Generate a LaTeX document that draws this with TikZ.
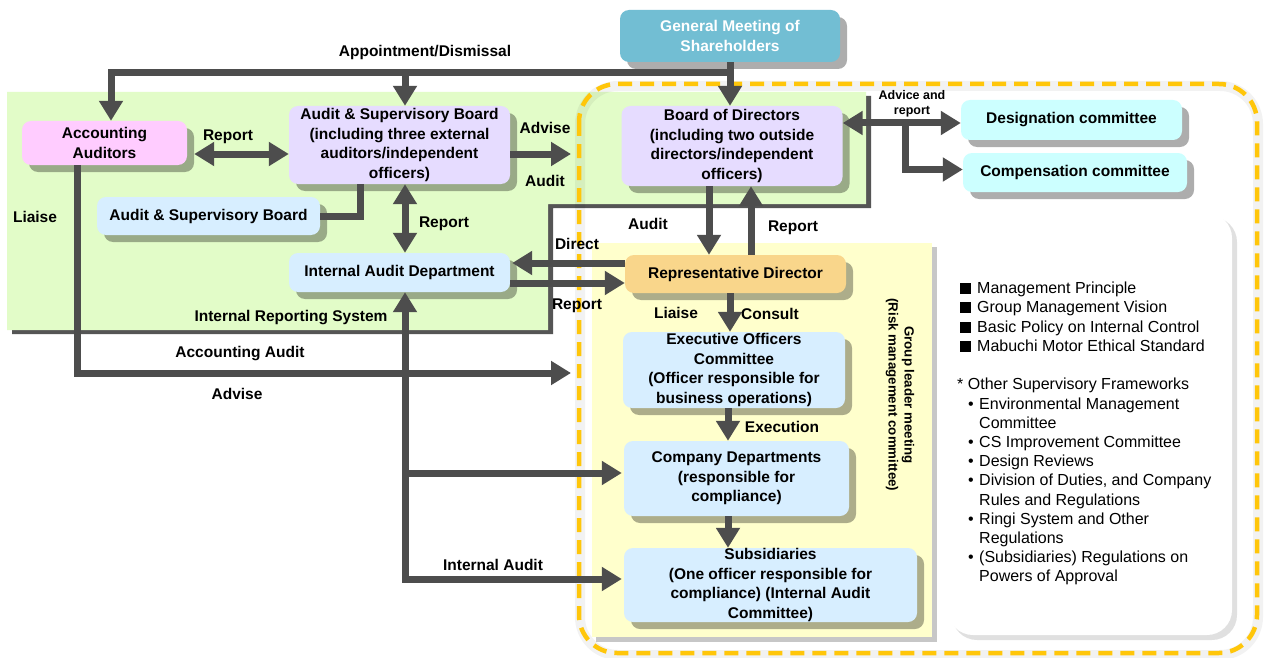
\documentclass[tikz,border=0pt]{standalone}
\usepackage{fontspec}
\setmainfont{Liberation Sans}
\usetikzlibrary{arrows.meta,shadows,calc}

\definecolor{arrowgray}{HTML}{4D4D4D}
\definecolor{edgegray}{HTML}{555555}
\definecolor{greenbg}{HTML}{E2FCC8}
\definecolor{yellowbg}{HTML}{FFFFCC}
\definecolor{goldline}{HTML}{FFC60A}
\definecolor{tealbox}{HTML}{72BED3}
\definecolor{lavbox}{HTML}{E6DCFF}
\definecolor{bluebox}{HTML}{D7EEFF}
\definecolor{pinkbox}{HTML}{FFCCFF}
\definecolor{cyanbox}{HTML}{CCFFFF}
\definecolor{orangebox}{HTML}{F9D68B}

\begin{document}
\begin{tikzpicture}[x=1pt,y=-1pt,
  lbl/.style={font=\bfseries\fontsize{15.5}{19}\selectfont, inner sep=0pt,
              text height=11.2pt, text depth=0pt},
  box/.style={rounded corners=9pt, align=center, inner sep=0pt,
              font=\bfseries\fontsize{15.5}{19.4}\selectfont,
              drop shadow={shadow xshift=7pt, shadow yshift=-7pt, fill=black, opacity=0.32}},
  arr/.style={draw=arrowgray, line width=7pt, line join=miter,
              -{Triangle[width=23pt,length=20pt]}},
  arrtwo/.style={draw=arrowgray, line width=7pt, line join=miter,
              {Triangle[width=23pt,length=20pt]}-{Triangle[width=23pt,length=20pt]}},
  link/.style={draw=arrowgray, line width=7pt, line join=miter},
]
\useasboundingbox (0,0) rectangle (1271,658);
\fill[white] (0,0) rectangle (1271,658);

% audit & supervision area (green, with dark edge)
\fill[edgegray] (12,96) -- (871,96) -- (871,208) -- (553,208) -- (553,334) -- (12,334) -- cycle;
\fill[greenbg] (7,92) -- (866,92) -- (866,204) -- (548,204) -- (548,330) -- (7,330) -- cycle;

% execution area (yellow)
\fill[black, opacity=0.22] (596,247) rectangle (937,642);
\fill[yellowbg] (592,243) rectangle (932,637);

% policy panel
\fill[black, opacity=0.12, rounded corners=25pt] (952,217) rectangle (1237,640);
\fill[white, rounded corners=25pt] (948,213) rectangle (1232,635);

% governance boundary
\draw[black, opacity=0.05, line width=10pt, rounded corners=38pt] (580,86) rectangle (1258,655);
\draw[goldline, line width=4.5pt, dash pattern=on 14pt off 8pt, rounded corners=38pt]
  (579,84) rectangle (1257,653);

% organisation units
\node[box, fill=tealbox, text=white, minimum width=220pt, minimum height=52pt] (GMS) at (730,36)
  {General Meeting of\\Shareholders};
\node[box, fill=lavbox, minimum width=221pt, minimum height=80pt] (BoD) at (732,146)
  {Board of Directors\\(including two outside\\directors/independent\\officers)};
\node[box, fill=cyanbox, minimum width=221pt, minimum height=40pt] (Desig) at (1071.5,120)
  {Designation committee};
\node[box, fill=cyanbox, minimum width=224pt, minimum height=39pt] (Comp) at (1075,172.5)
  {Compensation committee};
\node[box, fill=pinkbox, minimum width=165pt, minimum height=44pt] (AA) at (104.5,143)
  {Accounting\\Auditors};
\node[box, fill=lavbox, minimum width=221pt, minimum height=78pt] (ASB) at (399.5,145)
  {Audit \& Supervisory Board\\(including three external\\auditors/independent\\officers)};
\node[box, fill=bluebox, minimum width=223pt, minimum height=38pt] (ASBs) at (208.5,216)
  {Audit \& Supervisory Board};
\node[box, fill=bluebox, minimum width=221pt, minimum height=39pt] (IAD) at (399.5,272.5)
  {Internal Audit Department};
\node[box, fill=orangebox, minimum width=221pt, minimum height=38pt] (RD) at (735.5,274)
  {Representative Director};
\node[box, fill=bluebox, minimum width=222pt, minimum height=76pt] (Exec) at (734,370)
  {Executive Officers\\Committee\\(Officer responsible for\\business operations)};
\node[box, fill=bluebox, minimum width=225pt, minimum height=75pt] (CD) at (736.5,478.5)
  {Company Departments\\(responsible for\\compliance)};
\node[box, fill=bluebox, minimum width=293pt, minimum height=74pt] (Subs) at (770.5,585)
  {Subsidiaries\\(One officer responsible for\\compliance) (Internal Audit\\Committee)};

% group leader meeting caption
\node[rotate=-90, align=center, inner sep=0pt,
      font=\bfseries\fontsize{13.3}{16}\selectfont] (GLM) at (900,395)
  {Group leader meeting\\(Risk management committee)};

% policy list
\newcommand\sqitem{\hspace*{3pt}\makebox[17pt][l]{\rule[-0.5pt]{11pt}{11pt}}}
\newcommand\dotitem{\hspace*{11pt}\makebox[11pt][l]{•}}
\newcommand\contitem{\hspace*{22pt}}
\node[anchor=north west, align=left, inner sep=0pt,
      font=\fontsize{16}{19.2}\selectfont] (POL) at (957,282)
  {\sqitem Management Principle\\
   \sqitem Group Management Vision\\
   \sqitem Basic Policy on Internal Control\\
   \sqitem Mabuchi Motor Ethical Standard\\[19.2pt]
   * Other Supervisory Frameworks\\
   \dotitem Environmental Management\\
   \contitem Committee\\
   \dotitem CS Improvement Committee\\
   \dotitem Design Reviews\\
   \dotitem Division of Duties, and Company\\
   \contitem Rules and Regulations\\
   \dotitem Ringi System and Other\\
   \contitem Regulations\\
   \dotitem (Subsidiaries) Regulations on\\
   \contitem Powers of Approval};

% helper points
\coordinate (topR) at (730,73);
\coordinate (topL) at (111,73);
\coordinate (topM) at (405,73);
\coordinate (advEnd) at (571,154);
\coordinate (aaEnd) at (571,373);
\coordinate (asbA) at ($(ASB.south)+(-39.5,0)$);
\coordinate (repV) at ($(ASB.south)+(5.5,0)$);
\coordinate (auA) at ($(BoD.south)+(-23,0)$);
\coordinate (rpA) at ($(RD.north)+(15.5,0)$);
\coordinate (advL) at ($(BoD.east)+(0,-23)$);
\coordinate (brA) at (905,123);
\coordinate (rdD) at ($(RD.south)+(-5.5,0)$);
\coordinate (exD) at ($(Exec.south)+(-6,0)$);
\coordinate (cdD) at ($(CD.south)+(-8.5,0)$);
\coordinate (aaB) at ($(AA.south)+(-27,0)$);
\coordinate (iaB) at ($(IAD.south)+(5.5,0)$);
\coordinate (subL) at ($(Subs.west)+(-2,-6)$);
\coordinate (cdL) at ($(CD.west)+(-2,-5.5)$);

% connectors
\draw[arr] (GMS.south) -- (GMS.south |- BoD.north);
\draw[arr] (topR) -- (topL) -- (topL |- AA.north);
\draw[arr] (topM) -- (topM |- ASB.north);
\draw[arrtwo] ($(AA.east)+(7,11)$) -- ($(ASB.west)+(0,9)$);
\draw[arr] ($(ASB.east)+(0,9)$) -- (advEnd);
\draw[link] (asbA) |- (ASBs.east);
\draw[arrtwo] (repV) -- (repV |- IAD.north);
\draw[arr] ($(RD.west)+(0,-11)$) -- ($(IAD.east)+(2,-9.5)$);
\draw[arr] ($(IAD.east)+(0,10.5)$) -- ($(RD.west)+(0,9)$);
\draw[arr] (auA) -- (auA |- RD.north);
\draw[arr] (rpA) -- (rpA |- BoD.south);
\draw[arrtwo] (advL) -- (advL -| Desig.west);
\draw[arr] (brA) |- ($(Comp.west)+(0,-3)$);
\draw[arr] (rdD) -- (rdD |- Exec.north);
\draw[arr] (exD) -- (exD |- CD.north);
\draw[arr] (cdD) -- (cdD |- Subs.north);
\draw[arr] (aaB) |- (aaEnd);
\draw[arrtwo] (subL) -| (iaB);
\draw[arr] (cdL -| iaB) -- (cdL);

% connector labels
\node[lbl] (lApp) at (425,51) {Appointment/Dismissal};
\node[lbl] (lRep1) at (228,135) {Report};
\node[lbl] (lAdv1) at (545,128) {Advise};
\node[lbl] (lAud1) at (545,181) {Audit};
\node[lbl] (lLia1) at (35,217) {Liaise};
\node[lbl] (lRep2) at (444,222) {Report};
\node[lbl] (lDir) at (577,244) {Direct};
\node[lbl] (lRep3) at (577,304) {Report};
\node[lbl] (lAud2) at (648,224) {Audit};
\node[lbl] (lRep4) at (793,226) {Report};
\node[lbl] (lIRS) at (291,316) {Internal Reporting System};
\node[lbl] (lAA) at (240,352) {Accounting Audit};
\node[lbl] (lAdv2) at (237,394) {Advise};
\node[lbl] (lIA) at (493,565) {Internal Audit};
\node[lbl] (lLia2) at (676,313) {Liaise};
\node[lbl] (lCon) at (770,314) {Consult};
\node[lbl] (lExe) at (782,427) {Execution};
\node[align=center, inner sep=0pt, font=\bfseries\fontsize{12.5}{14.5}\selectfont]
  (lAdvRep) at (912,104) {Advice and\\report};
\end{tikzpicture}
\end{document}
